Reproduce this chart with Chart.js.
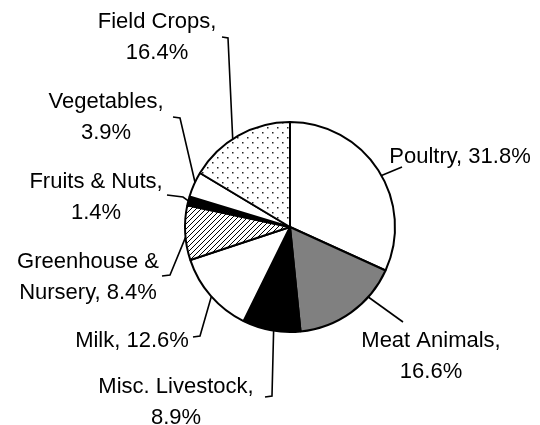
<!DOCTYPE html>
<html>
<head>
<meta charset="utf-8">
<script src="https://cdn.jsdelivr.net/npm/chart.js@4/dist/chart.umd.min.js"></script>
<style>
    html, body { margin: 0; padding: 0; background: #ffffff; }
    #wrap { width: 540px; height: 425px; }
</style>
</head>
<body>
<div id="wrap"><canvas id="pieChart" width="540" height="425"></canvas></div>
<script>
// Data (clockwise from 12 o'clock)
const categories = ['Poultry', 'Meat Animals', 'Misc. Livestock', 'Milk', 'Greenhouse &\nNursery', 'Fruits & Nuts', 'Vegetables', 'Field Crops'];
const shares = [31.8, 16.6, 8.9, 12.6, 8.4, 1.4, 3.9, 16.4];
const fills = ['white', 'gray', 'black', 'white', 'hatch', 'black', 'white', 'dots'];

// label layout: text centre x, first baseline y, break after comma, where leader leaves the slice, leader bends
const labelLayout = [
    { cx: 460, y: 163, br: false, frac: 0.53, path: [[402, 167]] },
    { cx: 431, y: 347, br: true, frac: 0.29, path: [[403, 322]] },
    { cx: 176, y: 393, br: true, frac: 0.46, path: [[272, 396], [265, 397]] },
    { cx: 132, y: 347, br: false, frac: 0.49, path: [[200, 336], [193, 337]] },
    { cx: 88, y: 268, br: false, frac: 0.42, path: [[170, 275], [162, 276]] },
    { cx: 96, y: 188, br: true, frac: 0.5, path: [[183, 197], [167, 195]] },
    { cx: 106, y: 108, br: true, frac: 0.59, path: [[180, 118], [173, 117]] },
    { cx: 157, y: 28, br: true, frac: 0.44, path: [[228, 38], [222, 37]] },
];

// fill patterns
function makeDots() {
    const c = document.createElement('canvas');
    c.width = 10; c.height = 10;
    const g = c.getContext('2d');
    g.fillStyle = '#fff'; g.fillRect(0, 0, 10, 10);
    g.fillStyle = '#222';
    g.fillRect(2, 2, 1.5, 1.5);
    g.fillRect(7, 7, 1.5, 1.5);
    return g.createPattern(c, 'repeat');
}

function makeHatch() {
    const s = 5;
    const c = document.createElement('canvas');
    c.width = s; c.height = s;
    const g = c.getContext('2d');
    g.fillStyle = '#fff'; g.fillRect(0, 0, s, s);
    g.strokeStyle = '#000'; g.lineWidth = 1;
    g.beginPath();
    g.moveTo(0, s); g.lineTo(s, 0);
    g.moveTo(-1, 1); g.lineTo(1, -1);
    g.moveTo(s - 1, s + 1); g.lineTo(s + 1, s - 1);
    g.stroke();
    return g.createPattern(c, 'repeat');
}

const fillMap = { white: '#ffffff', gray: '#808080', black: '#000000', hatch: makeHatch(), dots: makeDots() };

const labelText = (i) => {
    const val = shares[i].toFixed(1) + '%';
    const txt = labelLayout[i].br ? categories[i] + ',\n' + val : categories[i] + ', ' + val;
    return txt.split('\n');
};

// draws the callout labels with leader lines
const calloutPlugin = {
    id: 'callouts',
    afterDatasetsDraw(chart) {
        const ctx = chart.ctx;
        const arcs = chart.getDatasetMeta(0).data;
        ctx.save();
        ctx.strokeStyle = '#000';
        ctx.lineWidth = 1.6;
        ctx.fillStyle = '#000';
        ctx.font = '22px "Liberation Sans", Arial, sans-serif';
        ctx.textAlign = 'center';
        ctx.textBaseline = 'alphabetic';
        arcs.forEach((arc, i) => {
            const lay = labelLayout[i];
            const a = arc.startAngle + (arc.endAngle - arc.startAngle) * lay.frac;
            const r = arc.outerRadius;
            ctx.beginPath();
            ctx.moveTo(arc.x + Math.cos(a) * r, arc.y + Math.sin(a) * r);
            lay.path.forEach(p => ctx.lineTo(p[0], p[1]));
            ctx.stroke();
            labelText(i).forEach((line, k) => {
                ctx.fillText(line, lay.cx, lay.y + k * 31);
            });
        });
        ctx.restore();
    }
};

new Chart(document.getElementById('pieChart'), {
    type: 'pie',
    data: {
        labels: categories,
        datasets: [{
            data: shares,
            backgroundColor: fills.map(f => fillMap[f]),
            borderColor: '#000000',
            borderWidth: 2,
            hoverOffset: 0,
        }],
    },
    options: {
        responsive: false,
        animation: false,
        devicePixelRatio: 1,
        events: [],
        layout: { padding: { left: 184, right: 144, top: 121, bottom: 92 } },
        plugins: {
            legend: { display: false },
            tooltip: { enabled: false },
        },
    },
    plugins: [calloutPlugin],
});
</script>
</body>
</html>
